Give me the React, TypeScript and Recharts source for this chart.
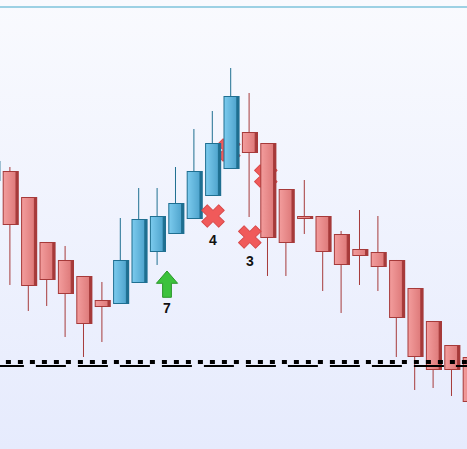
import { ComposedChart, Bar, Scatter, XAxis, YAxis, ReferenceLine } from 'recharts'

// one entry per candle, left to right (first and last are cut by the frame)
const bars = ['b0', 'b1', 'b2', 'b3', 'b4', 'b5', 'b6', 'b7', 'b8', 'b9', 'b10', 'b11', 'b12', 'b13',
  'b14', 'b15', 'b16', 'b17', 'b18', 'b19', 'b20', 'b21', 'b22', 'b23', 'b24', 'b25', 'b26']
const opens = [126.8, 127.8, 125.2, 120.7, 118.9, 117.3, 114.9, 114.5, 116.6, 119.7, 121.5, 123.0, 125.3, 128.0,
  131.7, 130.6, 126.0, 123.3, 123.3, 121.5, 120.0, 119.7, 118.9, 116.1, 112.8, 110.4, 109.2]
const highs = [129.5, 128.2, 125.2, 120.7, 120.3, 117.3, 116.7, 123.1, 126.1, 126.1, 128.2, 132.0, 133.8, 138.1,
  135.6, 130.6, 126.0, 126.9, 123.3, 121.8, 123.9, 123.3, 118.9, 116.1, 112.8, 110.4, 109.2]
const lows = [126.2, 116.4, 113.8, 114.3, 111.2, 109.2, 110.7, 114.5, 116.6, 118.4, 121.5, 123.0, 125.3, 128.0,
  123.2, 117.3, 117.3, 121.5, 115.8, 113.6, 116.4, 115.8, 109.2, 105.9, 106.1, 105.3, 103.4]
const closes = [128.8, 122.4, 116.3, 116.9, 115.5, 112.5, 114.2, 118.9, 123.0, 123.3, 124.6, 127.8, 130.6, 135.3,
  129.6, 121.1, 120.6, 123.0, 119.7, 118.4, 119.3, 118.2, 113.1, 109.2, 107.9, 107.9, 104.7]

// trade signals (x in bar index units)
const signalPos = [12, 14, 9.5]
const signalPrice = [123.3, 121.2, 116.5]
const signalText = ['4', '3', '7']
const signalKind = ['sell', 'sell', 'buy']

// older signals sitting behind the candles
const hiddenPos = [12.86, 14.87]
const hiddenPrice = [129.9, 127.3]

const levelPrice = 108.7
const levelPrice2 = 108.3
const topPrice = 144.2

const candles = bars.map((name, i) => ({
  name,
  open: opens[i],
  high: highs[i],
  low: lows[i],
  close: closes[i],
  range: [lows[i], highs[i]],
}))
const signals = signalPos.map((x, i) => ({ x, y: signalPrice[i], text: signalText[i], kind: signalKind[i] }))
const hidden = hiddenPos.map((x, i) => ({ x, y: hiddenPrice[i], text: '', kind: 'sell' }))

function Candle(props: any) {
  const { x, y, width, height, payload } = props
  const { open, close, high, low } = payload
  const cx = x + width / 2
  const yTop = height >= 0 ? y : y + height
  const hh = Math.abs(height)
  const pix = (v: number) => yTop + ((high - v) / (high - low)) * hh
  const up = close >= open
  const top = pix(Math.max(open, close))
  const bot = pix(Math.min(open, close))
  const h = Math.max(bot - top, 2)
  const edge = up ? '#1f6f91' : '#a63a3a'
  return (
    <g>
      <line x1={cx - 0.5} x2={cx - 0.5} y1={yTop} y2={yTop + hh} stroke={edge} strokeWidth={1} />
      <rect x={cx - 6} y={top} width={14.4} height={h} fill={edge} />
      <rect x={cx - 7.2} y={top + 0.5} width={12.8} height={h - 1}
        fill={`url(#${up ? 'blueBody' : 'redBody'})`} stroke={edge} strokeWidth={1} />
    </g>
  )
}

function Signal(props: any) {
  const { cx, cy, payload } = props
  const label = payload.text ? (
    <text x={cx} y={cy + 29} textAnchor="middle" fontFamily="'Liberation Sans', Arial, sans-serif"
      fontWeight="bold" fontSize={14} fill="#111">
      {payload.text}
    </text>
  ) : null
  if (payload.kind === 'buy') {
    return (
      <g>
        <path transform={`translate(${cx},${cy})`}
          d="M0,-13 L10.6,-0.7 L4.4,-0.7 L4.4,13.3 L-4.4,13.3 L-4.4,-0.7 L-10.6,-0.7 Z"
          fill="#3cc23c" stroke="#2a962a" strokeWidth={1} strokeLinejoin="round" />
        {label}
      </g>
    )
  }
  return (
    <g>
      <path transform={`translate(${cx},${cy}) rotate(45)`}
        d="M-3.9,-12 H3.9 V-3.9 H12 V3.9 H3.9 V12 H-3.9 V3.9 H-12 V-3.9 H-3.9 Z"
        fill="#f05a5a" stroke="#d84848" strokeWidth={1} strokeLinejoin="round" />
      {label}
    </g>
  )
}

export default function App() {
  return (
    <div style={{
      position: 'fixed', left: 0, top: 0, width: 467, height: 449, overflow: 'hidden',
      background: 'linear-gradient(#f9fafe, #e6ebfd)',
    }}>
      <div style={{ position: 'absolute', left: -16.9, top: 0 }}>
        <ComposedChart width={496.8} height={449} data={candles}
          margin={{ top: 0, right: 0, bottom: 0, left: 0 }}>
          <defs>
            <linearGradient id="redBody" x1="0" y1="0" x2="1" y2="0">
              <stop offset="0%" stopColor="#f39d9d" />
              <stop offset="100%" stopColor="#de7a7a" />
            </linearGradient>
            <linearGradient id="blueBody" x1="0" y1="0" x2="1" y2="0">
              <stop offset="0%" stopColor="#7ccbee" />
              <stop offset="100%" stopColor="#4fa4cd" />
            </linearGradient>
          </defs>
          <XAxis dataKey="name" hide />
          <XAxis xAxisId="num" dataKey="x" type="number" domain={[-0.5, 26.5]} hide />
          <YAxis hide type="number" domain={[100, 144.9]} allowDataOverflow />
          <Scatter xAxisId="num" data={hidden} dataKey="y" shape={Signal} zIndex={100} isAnimationActive={false} />
          <Bar dataKey="range" barSize={16} shape={Candle} isAnimationActive={false} />
          <Scatter xAxisId="num" data={signals} dataKey="y" shape={Signal} isAnimationActive={false} />
          <ReferenceLine y={topPrice} stroke="#9dd1e4" strokeWidth={2} />
          <ReferenceLine y={levelPrice} stroke="#000" strokeWidth={4} strokeDasharray="5 7" strokeDashoffset={1.1} />
          <ReferenceLine y={levelPrice2} stroke="#000" strokeWidth={2} strokeDasharray="30 12" strokeDashoffset={31.1} />
        </ComposedChart>
      </div>
    </div>
  )
}
